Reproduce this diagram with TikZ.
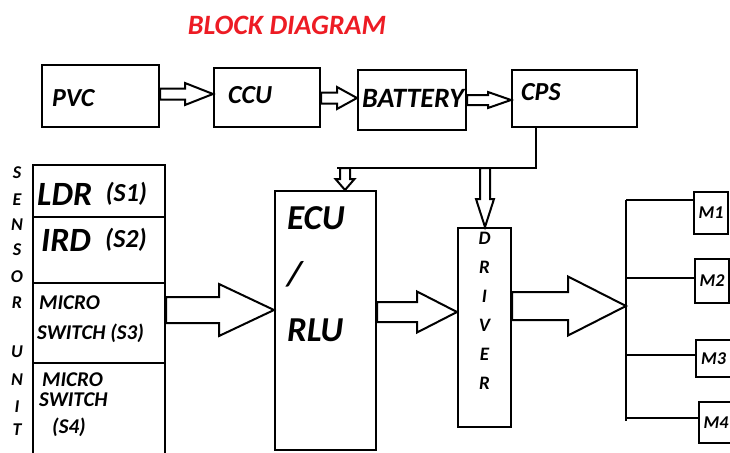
\documentclass[tikz,border=0pt]{standalone}
\usepackage{fontspec}
\setmainfont{Carlito}
\usetikzlibrary{positioning,calc}
\definecolor{TitleRed}{HTML}{ED1C24}

\newcommand{\blockarr}[5]{%
  \coordinate (hb) at ($(#2)!#5!(#1)$);
  \draw[hollow] ($(#1)!#3!90:(#2)$) -- ($(hb)!#3!90:(#2)$) -- ($(hb)!#4!90:(#2)$)
    -- (#2) -- ($(hb)!#4!-90:(#2)$) -- ($(hb)!#3!-90:(#2)$) -- ($(#1)!#3!-90:(#2)$) -- cycle;
}

\begin{document}
\begin{tikzpicture}[
      x=1pt, y=-1pt,
      box/.style={draw, line width=2pt, rectangle, inner sep=0pt},
      hollow/.style={draw, line width=2pt, fill=white, line join=miter},
      conn/.style={line width=2pt},
      lbl/.style={font=\fontsize{26}{26}\selectfont\bfseries\itshape, inner sep=0pt},
      big/.style={font=\fontsize{34}{34}\selectfont\bfseries\itshape, inner sep=0pt},
      mid/.style={font=\fontsize{26}{26}\selectfont\bfseries\itshape, inner sep=0pt},
      small/.style={font=\fontsize{21}{21}\selectfont\bfseries\itshape, inner sep=0pt},
      vlet/.style={font=\fontsize{18}{18}\selectfont\bfseries\itshape, inner sep=0pt}
    ]
      \useasboundingbox (0,0) rectangle (730,452);
      \clip (0,0) rectangle (730,452);
      \node[font=\fontsize{28}{28}\selectfont\bfseries\itshape, text=TitleRed] (title) at (287,25) {BLOCK DIAGRAM};

      % power chain
      \node[box, minimum width=117pt, minimum height=62pt] (pvc) at (100.5,96) {};
      \node[box, minimum width=106pt, minimum height=59pt] (ccu) at (267,97.5) {};
      \node[box, minimum width=108pt, minimum height=60pt] (batt) at (412,100) {};
      \node[box, minimum width=125pt, minimum height=57pt] (cps) at (574.5,98.5) {};
      \node[lbl, anchor=west] (pvct) at ([xshift=11pt,yshift=-2pt]pvc.west) {PVC};
      \node[lbl, anchor=west] (ccut) at ([xshift=15pt,yshift=2.5pt]ccu.west) {CCU};
      \node[lbl, font=\fontsize{28}{28}\selectfont\bfseries\itshape] (battt) at ([xshift=1pt,yshift=2pt]batt.center) {BATTERY};
      \node[lbl, anchor=west] (cpst) at ([xshift=10pt,yshift=6.5pt]cps.west) {CPS};

      % sensor unit
      \node[box, minimum width=132pt, minimum height=52pt] (s1) at (99,191) {};
      \node[box, minimum width=132pt, minimum height=66pt] (s2) at (99,250) {};
      \node[box, minimum width=132pt, minimum height=80pt] (s3) at (99,323) {};
      \node[box, minimum width=132pt, minimum height=98pt] (s4) at (99,412) {};
      \node[big, anchor=west] (ldrt) at ([xshift=5pt,yshift=-3pt]s1.west) {LDR};
      \node[mid, right=13pt of ldrt] (s1t) {(S1)};
      \node[big, anchor=west] (irdt) at ([xshift=9pt,yshift=10pt]s2.west) {IRD};
      \node[mid, right=14pt of irdt] (s2t) {(S2)};
      \node[small, anchor=west] (mic3) at ([xshift=7pt,yshift=20pt]s3.west) {MICRO};
      \node[small, anchor=west] (sw3) at ([xshift=5pt,yshift=-10pt]s3.west) {SWITCH (S3)};
      \node[small, anchor=west] (mic4) at ([xshift=10pt,yshift=32pt]s4.west) {MICRO};
      \node[small, anchor=west] (sw4) at ([xshift=7pt,yshift=12pt]s4.west) {SWITCH};
      \node[small, anchor=west] (s4t) at ([xshift=20pt,yshift=-15pt]s4.west) {(S4)};
      \foreach \ch/\yy in {S/173,E/200,N/225,S/250,O/277,R/303,U/352,N/380,I/407,T/430}
        \node[vlet] (su\yy) at (17,\yy) {\ch};

      % control and drive
      \node[box, minimum width=101pt, minimum height=259pt] (ecu) at (325.5,320.5) {};
      \node[font=\fontsize{35}{56}\selectfont\bfseries\itshape, inner sep=0pt, align=left, anchor=north west]
        (ecut) at ([xshift=13pt,yshift=-16pt]ecu.north west) {ECU\\/\\RLU};
      \node[box, minimum width=53pt, minimum height=199pt] (drv) at (484.5,327.5) {};
      \node[font=\fontsize{19}{29}\selectfont\bfseries\itshape, inner sep=0pt, align=center, anchor=north]
        (drvt) at ([yshift=-5pt]drv.north) {D\\R\\I\\V\\E\\R};

      % motors
      \node[box, minimum width=34pt, minimum height=42pt, font=\fontsize{18}{18}\selectfont\bfseries\itshape] (m1) at (711,213) {M1};
      \node[box, minimum width=34pt, minimum height=44pt, font=\fontsize{18}{18}\selectfont\bfseries\itshape] (m2) at (712,281) {M2};
      \node[box, minimum width=35pt, minimum height=37pt, font=\fontsize{18}{18}\selectfont\bfseries\itshape] (m3) at (713.5,358.5) {M3};
      \node[box, minimum width=34pt, minimum height=41pt, font=\fontsize{18}{18}\selectfont\bfseries\itshape] (m4) at (716,422.5) {M4};

      \coordinate (b1) at (626,200);
      \coordinate (b2) at (626,278);
      \coordinate (b3) at (626,355);
      \coordinate (b4) at (626,418);
      \coordinate (busbot) at (626,421);
      \coordinate (bustip) at (626,306);
      \draw[conn] (b1) -- (busbot);
      \draw[conn] (b1) -- (b1 -| m1.west);
      \draw[conn] (b2) -- (b2 -| m2.west);
      \draw[conn] (b3) -- (b3 -| m3.west);
      \draw[conn] (b4) -- (b4 -| m4.west);

      % supply feed
      \coordinate (feedend) at (337,168);
      \coordinate (tap1) at (345,168);
      \coordinate (tap2) at (485,168);
      \draw[conn] (cps.south -| 536,0) |- (feedend);

      % hollow arrows
      \coordinate (a1s) at (pvc.east |- 0,94);
      \coordinate (a1e) at (ccu.west |- 0,94);
      \blockarr{a1s}{a1e}{5.5pt}{11pt}{28pt}
      \coordinate (a2s) at (ccu.east |- 0,98);
      \coordinate (a2e) at (batt.west |- 0,98);
      \blockarr{a2s}{a2e}{5.5pt}{11pt}{20pt}
      \coordinate (a3s) at (batt.east |- 0,100);
      \coordinate (a3e) at (cps.west |- 0,100);
      \blockarr{a3s}{a3e}{5pt}{8pt}{23pt}
      \coordinate (a4e) at (ecu.north -| tap1);
      \blockarr{tap1}{a4e}{5pt}{9.5pt}{11pt}
      \coordinate (a5e) at (drv.north -| tap2);
      \blockarr{tap2}{a5e}{5pt}{9pt}{28pt}
      \coordinate (a6s) at (s3.east |- 0,310);
      \coordinate (a6e) at (ecu.west |- 0,310);
      \blockarr{a6s}{a6e}{13pt}{26pt}{55pt}
      \coordinate (a7s) at (ecu.east |- 0,312);
      \coordinate (a7e) at (drv.west |- 0,312);
      \blockarr{a7s}{a7e}{10pt}{20.5pt}{40pt}
      \coordinate (a8s) at (drv.east |- bustip);
      \blockarr{a8s}{bustip}{14pt}{29.5pt}{58pt}
    \end{tikzpicture}
\end{document}
